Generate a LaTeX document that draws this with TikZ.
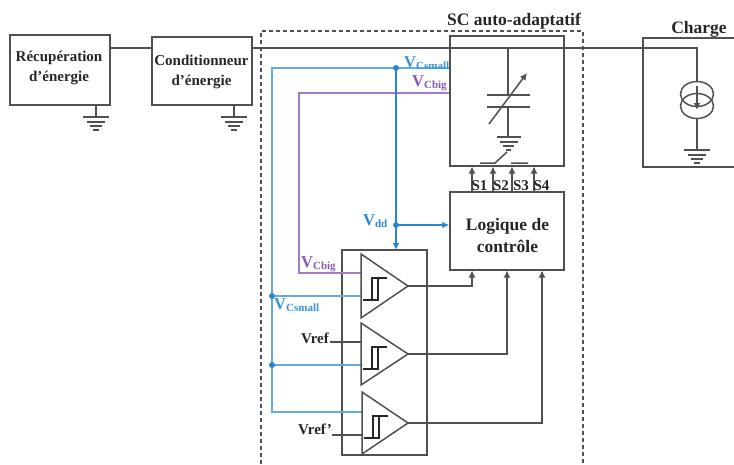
\documentclass[tikz,border=0pt]{standalone}
\usepackage{fontspec}
\setmainfont{Liberation Serif}
\usetikzlibrary{arrows.meta}
\definecolor{wire}{HTML}{505050}
\definecolor{bluea}{HTML}{2A86CF}
\definecolor{blueb}{HTML}{62ACE0}
\definecolor{purp}{HTML}{A47CC6}
\definecolor{bluet}{HTML}{3A93D6}
\definecolor{purt}{HTML}{8A58B4}
\newcommand{\vsub}[2]{{\fontsize{16.5}{16}\selectfont V}\raisebox{-2pt}{\fontsize{11}{11}\selectfont #2}}
\newcommand{\gnd}[2]{%
  \draw[wl] (#1-13,#2) -- (#1+13,#2);
  \draw[wl] (#1-9,#2+5) -- (#1+9,#2+5);
  \draw[wl] (#1-6,#2+9) -- (#1+6,#2+9);
  \draw[wl] (#1-3,#2+13) -- (#1+3,#2+13);}
\newcommand{\comp}[4]{% name, x, ytop, ybot
  \coordinate (#1t) at (#2,#3);
  \coordinate (#1b) at (#2,#4);
  \coordinate (#1o) at (408,{(#3+#4)/2});
  \draw[wl] (#1t) -- (#1o) -- (#1b) -- cycle;
  \draw[wl,draw=black!85] (#2+2,#3+46) -- (#2+17,#3+46) -- (#2+17,#3+24) -- (#2+26,#3+24)
        (#2+11,#3+46) -- (#2+11,#3+24) -- (#2+17,#3+24);}
\tikzset{
  wl/.style={draw=wire,line width=1.5pt},
  boxn/.style={draw=wire,line width=1.5pt,inner sep=0pt},
  lbl/.style={inner sep=0pt,align=center,font=\bfseries\fontsize{15}{20}\selectfont,text=black!85},
  big/.style={lbl,font=\bfseries\fontsize{17.5}{22}\selectfont},
  arr/.style={-{Latex[length=7pt,width=7pt]}},
  blw/.style={draw=blueb,line width=1.5pt},
  bvd/.style={draw=bluea,line width=2pt},
  plw/.style={draw=purp,line width=1.5pt},
  dotb/.style={circle,fill=bluea,inner sep=0pt,minimum size=6pt}
}
\begin{document}
\begin{tikzpicture}[x=1pt,y=-1pt]
\useasboundingbox (0,0) rectangle (734,464);
% dashed frame
\draw[draw=wire,line width=1.5pt,dash pattern=on 4pt off 3pt] (261,464) -- (261,31) -- (583,31) -- (583,464);
% boxes
\node[boxn,minimum width=100pt,minimum height=70pt] (rec) at (60,70) {};
\node[boxn,minimum width=100pt,minimum height=68pt] (cond) at (202,71) {};
\node[boxn,minimum width=114pt,minimum height=130pt] (sc) at (507,101) {};
\node[boxn,minimum width=114pt,minimum height=78pt] (log) at (507,231) {};
\node[boxn,minimum width=85pt,minimum height=205pt] (cmp) at (384.5,352.5) {};
\node[lbl] (trec) at (59,67.5) {Récupération\\d’énergie};
\node[lbl] (tcond) at (201.5,72) {Conditionneur\\d’énergie};
\node[big] (tlog) at (507.5,236) {Logique de\\contrôle};
% charge box
\draw[draw=wire,line width=1.5pt] (734,38) -- (643,38) -- (643,167) -- (734,167);
% titles
\node[big] (t1) at (514,21) {SC auto-adaptatif};
\node[big] (t2) at (699,29) {Charge};
% power wires
\coordinate (j1) at (697,48);
\coordinate (j2) at (697,150);
\draw[wl] (rec.east |- j1) -- (cond.west |- j1);
\draw[wl] (cond.east |- j1) -- (j1) -- (697,81.5);
\draw[wl] (697,118.5) -- (j2);
\draw[wl] (697,94) ellipse [x radius=16.5,y radius=12.5];
\draw[wl] (697,106) ellipse [x radius=16.5,y radius=12.5];
\draw[wl,arr] (697,86) -- (697,110);
\gnd{697}{150}
% grounds left
\draw[wl] (96,105) -- (96,117);
\gnd{96}{117}
\draw[wl] (234,105) -- (234,117);
\gnd{234}{117}
% variable capacitor
\draw[wl] (508,48) -- (508,95) (508,107) -- (508,137);
\draw[wl] (487,95) -- (530,95) (487,107) -- (530,107);
\draw[wl,arr] (489,124) -- (527,73);
\draw[wl] (497,137) -- (521,137);
\draw[wl] (500,142) -- (518,142);
\draw[wl] (503,146) -- (514,146);
\draw[wl] (506,150) -- (511,150);
% switch
\draw[wl] (480,163) -- (495,163) -- (507,152) (511,163) -- (528,163);
% S arrows
\foreach \sx/\lx/\st in {472/479.5/S1,493/501/S2,512/521/S3,534/541.5/S4}{
  \draw[wl,arr] (\sx,192) -- (\sx,166.5);
  \node[lbl] (n\st) at (\lx,186) {\st};
}
% blue and purple wires
\coordinate (c1) at (272,68);
\coordinate (c2) at (396,68);
\coordinate (c3) at (396,225);
\coordinate (c4) at (272,296);
\coordinate (c5) at (272,365);
\draw[blw] (sc.west |- c1) -- (c1) -- (272,412) -- (362,412);
\draw[blw] (c4) -- (361,296);
\draw[blw] (c5) -- (361,365);
\draw[plw] (sc.west |- 299,93) -- (299,93) -- (299,273) -- (361,273);
\draw[bvd,arr] (c2) -- (396,250);
\draw[bvd,arr] (c3) -- (log.west |- c3);
\foreach \c in {c2,c3,c4,c5} \node[dotb] at (\c) {};
% comparators
\comp{a}{361}{254}{318}
\comp{b}{361}{323}{385}
\comp{c}{362}{392}{454}
\draw[wl,arr] (ao) -| (472,270.5);
\draw[wl,arr] (bo) -| (507,270.5);
\draw[wl,arr] (co) -| (542,270.5);
% refs
\coordinate (r1) at (330,342);
\coordinate (r2) at (332,435);
\draw[wl] (r1) -- (361,342);
\draw[wl] (r2) -- (362,435);
\node[lbl] (vr1) at (315,338) {Vref};
\node[lbl] (vr2) at (315,429) {Vref’};
% coloured labels
\node[lbl,text=bluet,anchor=west] (l1) at (404,63) {\vsub{}{Csmall}};
\node[lbl,text=purt,anchor=west] (l2) at (412,83) {\vsub{}{Cbig}};
\node[lbl,text=bluea,anchor=west] (l3) at (363,221) {\vsub{}{dd}};
\node[lbl,text=purt,anchor=west] (l4) at (301,264) {\vsub{}{Cbig}};
\node[lbl,text=bluet,anchor=west] (l5) at (274,305) {\vsub{}{Csmall}};
\end{tikzpicture}
\end{document}
